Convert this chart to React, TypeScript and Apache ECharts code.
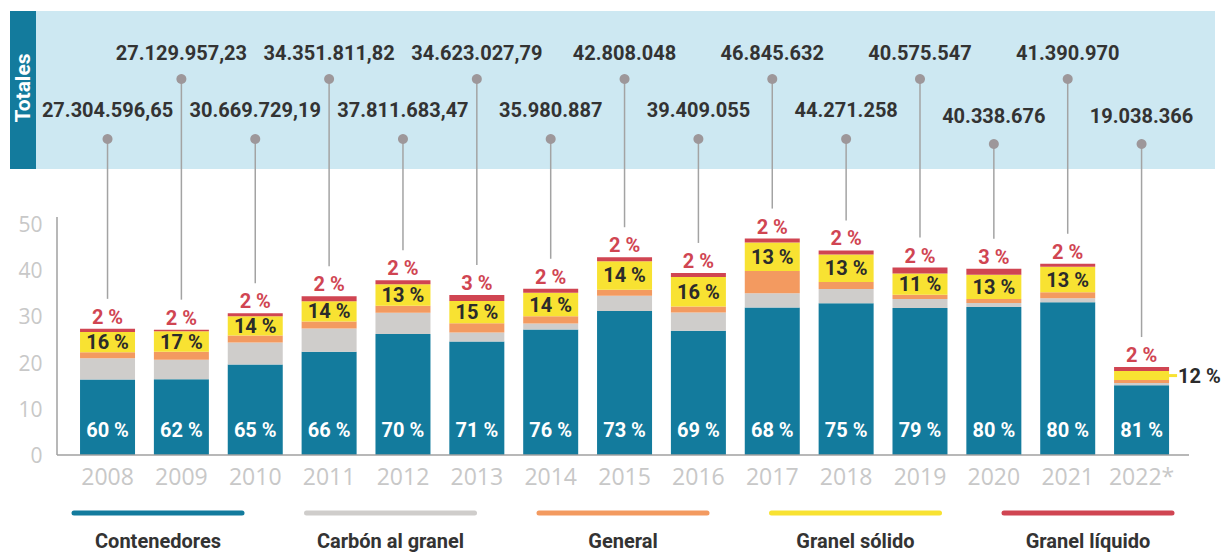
import React, { useEffect, useRef } from 'react';
import * as echarts from 'echarts';

const years = ['2008', '2009', '2010', '2011', '2012', '2013', '2014', '2015', '2016', '2017', '2018', '2019', '2020', '2021', '2022*'];
const totalLabels = ['27.304.596,65', '27.129.957,23', '30.669.729,19', '34.351.811,82', '37.811.683,47', '34.623.027,79', '35.980.887', '42.808.048', '39.409.055', '46.845.632', '44.271.258', '40.575.547', '40.338.676', '41.390.970', '19.038.366'];
// 0 = upper row, 1 = lower row, 2 = lowest row
const totalRows = [1, 0, 1, 0, 1, 0, 1, 0, 1, 0, 1, 0, 2, 0, 2];

// values in millions of tonnes
const contenedores = [16.32, 16.40, 19.60, 22.34, 26.18, 24.56, 27.17, 31.19, 26.88, 31.92, 32.84, 31.82, 32.02, 33.04, 15.12];
const carbon = [4.61, 4.19, 4.73, 5.02, 4.61, 1.97, 1.32, 3.29, 3.96, 3.07, 3.08, 1.97, 0.88, 0.88, 0.44];
const general = [1.32, 1.76, 1.53, 1.53, 1.54, 1.97, 1.54, 1.31, 1.32, 4.83, 1.54, 0.88, 0.88, 1.32, 0.65];
const solido = [4.39, 4.41, 4.15, 4.37, 4.61, 4.81, 5.07, 6.14, 6.37, 6.15, 5.94, 4.60, 5.25, 5.49, 1.96];
const liquido = [0.66, 0.37, 0.66, 1.09, 0.88, 1.31, 0.88, 0.88, 0.88, 0.88, 0.88, 1.31, 1.31, 0.66, 0.87];

const contPct = [60, 62, 65, 66, 70, 71, 76, 73, 69, 68, 75, 79, 80, 80, 81];
const solidoPct = [16, 17, 14, 14, 13, 15, 14, 14, 16, 13, 13, 11, 13, 13, 12];
const liquidoPct = [2, 2, 2, 2, 2, 3, 2, 2, 2, 2, 2, 2, 3, 2, 2];

const seriesNames = ['Contenedores', 'Carbón al granel', 'General', 'Granel sólido', 'Granel líquido'];
const seriesColors = ['#137b9d', '#cfcdcb', '#f39a60', '#f8e232', '#d04552'];

const yMin = 0;
const yMax = 50;
const yInterval = 10;

const totals = totalLabels.map((s) => parseFloat(s.replace(/\./g, '').replace(',', '.')) / 1e6);

export default function App() {
  const ref = useRef<HTMLDivElement>(null);

  useEffect(() => {
    if (!ref.current) return;
    const chart = echarts.init(ref.current, null, { renderer: 'svg' });
    const labelFont = 'Roboto, "Open Sans", sans-serif';

    const rowText = [53, 110, 116];
    const rowDot = [79, 139, 144];

    const legendGraphics: any[] = [];
    seriesNames.forEach((name, i) => {
      const cx = 158 + i * 232.5;
      legendGraphics.push({
        type: 'line',
        shape: { x1: cx - 84, y1: 513, x2: cx + 84, y2: 513 },
        style: { stroke: seriesColors[i], lineWidth: 5, lineCap: 'round' },
        z: 10,
      });
      legendGraphics.push({
        type: 'text',
        x: cx,
        y: 541,
        style: {
          text: name,
          fill: '#333333',
          font: `bold 20px ${labelFont}`,
          align: 'center',
          verticalAlign: 'middle',
        },
        z: 10,
      });
    });

    const barBase = {
      type: 'bar',
      stack: 'total',
      barWidth: 55,
      emphasis: { disabled: true },
    };

    const option: any = {
      animation: false,
      textStyle: { fontFamily: labelFont },
      grid: { left: 70.6, right: 42.5, top: 224, bottom: 98 },
      xAxis: {
        type: 'category',
        data: years,
        axisLine: { show: false },
        axisTick: { show: false },
        axisLabel: { interval: 0, color: '#c8c8c8', fontSize: 23, margin: 9, fontFamily: '"Open Sans", sans-serif' },
      },
      yAxis: {
        type: 'value',
        min: yMin,
        max: yMax,
        interval: yInterval,
        axisLine: { show: false },
        axisTick: { show: false },
        splitLine: { show: false },
        axisLabel: { color: '#c8c8c8', fontSize: 21, margin: 28, padding: [6, 0, 0, 0], fontFamily: '"Open Sans", sans-serif' },
      },
      graphic: [
        { type: 'rect', shape: { x: 10, y: 11, width: 1205, height: 158 }, style: { fill: '#cde8f2' }, z: 0 },
        { type: 'rect', shape: { x: 10, y: 11, width: 26, height: 158 }, style: { fill: '#137b9d' }, z: 1 },
        {
          type: 'text',
          x: 23,
          y: 88,
          rotation: Math.PI / 2,
          style: { text: 'Totales', fill: '#ffffff', font: `bold 21px ${labelFont}`, align: 'center', verticalAlign: 'middle' },
          z: 2,
        },
        { type: 'line', shape: { x1: 57, y1: 217, x2: 57, y2: 455 }, style: { stroke: '#a0a0a0', lineWidth: 1.5 }, z: 5 },
        { type: 'line', shape: { x1: 57, y1: 455, x2: 1189, y2: 455 }, style: { stroke: '#a0a0a0', lineWidth: 1.5 }, z: 5 },
        ...legendGraphics,
      ],
      series: [
        {
          ...barBase,
          name: seriesNames[0],
          data: contenedores,
          itemStyle: { color: seriesColors[0] },
          label: {
            show: true,
            position: 'insideBottom',
            distance: 15,
            color: '#ffffff',
            fontWeight: 'bold',
            fontSize: 20,
            formatter: (p: any) => `${contPct[p.dataIndex]} %`,
          },
        },
        { ...barBase, name: seriesNames[1], data: carbon, itemStyle: { color: seriesColors[1] } },
        { ...barBase, name: seriesNames[2], data: general, itemStyle: { color: seriesColors[2] } },
        {
          ...barBase,
          name: seriesNames[3],
          data: solido.map((v, i) =>
            i === solido.length - 1
              ? {
                  value: v,
                  label: {
                    position: 'right',
                    distance: 0,
                    formatter: `{ln| }{t|${solidoPct[i]} %}`,
                    rich: {
                      ln: { width: 8, height: 3, backgroundColor: seriesColors[3] },
                      t: { color: '#2b2b2b', fontWeight: 'bold', fontSize: 20, fontFamily: labelFont, padding: [0, 0, 0, 1] },
                    },
                  },
                }
              : v
          ),
          itemStyle: { color: seriesColors[3] },
          label: {
            show: true,
            position: 'inside',
            color: '#2b2b2b',
            fontWeight: 'bold',
            fontSize: 20,
            formatter: (p: any) => `${solidoPct[p.dataIndex]} %`,
          },
        },
        {
          ...barBase,
          name: seriesNames[4],
          data: liquido,
          itemStyle: { color: seriesColors[4] },
          label: {
            show: true,
            position: 'top',
            distance: 2,
            color: seriesColors[4],
            fontWeight: 'bold',
            fontSize: 20,
            formatter: (p: any) => `${liquidoPct[p.dataIndex]} %`,
          },
        },
        {
          type: 'custom',
          name: 'Totales',
          clip: false,
          z: 6,
          data: years.map((_, i) => [i, totals[i], totalRows[i]]),
          renderItem: (params: any, api: any) => {
            const idx = api.value(0);
            const tot = api.value(1);
            const row = api.value(2);
            const p = api.coord([idx, tot]);
            const dotY = rowDot[row];
            const textY = rowText[row];
            return {
              type: 'group',
              children: [
                {
                  type: 'line',
                  shape: { x1: p[0], y1: dotY, x2: p[0], y2: p[1] - 30 },
                  style: { stroke: '#a3a3a3', lineWidth: 1.5 },
                },
                {
                  type: 'circle',
                  shape: { cx: p[0], cy: dotY, r: 5 },
                  style: { fill: '#9d979a' },
                },
                {
                  type: 'text',
                  x: p[0],
                  y: textY,
                  style: {
                    text: totalLabels[params.dataIndex],
                    fill: '#333333',
                    font: `bold 20px ${labelFont}`,
                    align: 'center',
                    verticalAlign: 'middle',
                  },
                },
              ],
            };
          },
        },
      ],
    };

    chart.setOption(option);
    return () => chart.dispose();
  }, []);

  return <div ref={ref} style={{ position: 'absolute', left: 0, top: 0, width: 1221, height: 553 }} />;
}
